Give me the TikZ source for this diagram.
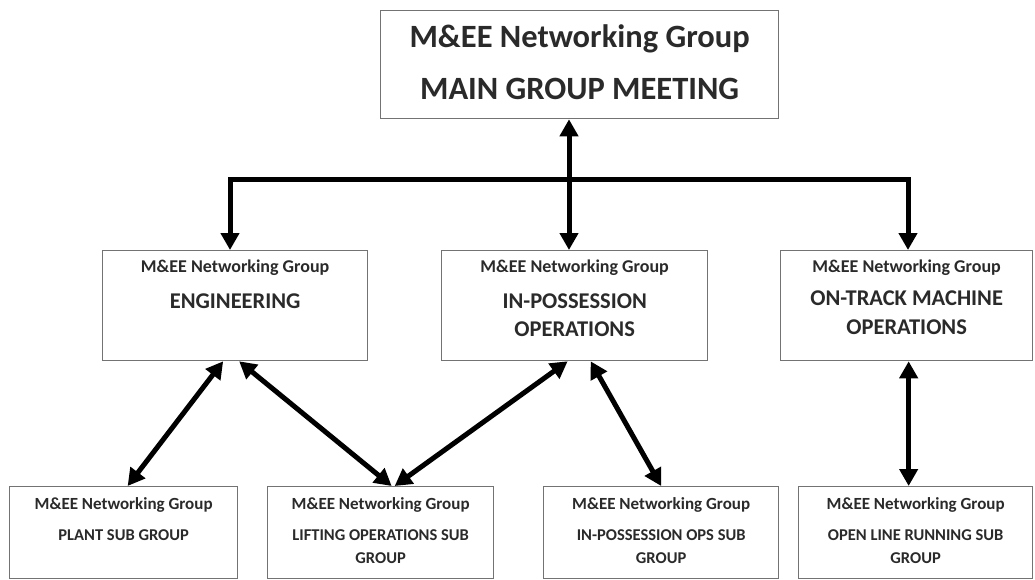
\documentclass[tikz,border=0pt]{standalone}
\usepackage{fontspec}
\setmainfont{Carlito}
\usetikzlibrary{arrows.meta,calc}
\definecolor{txt}{HTML}{2A2A2A}
\begin{document}
\begin{tikzpicture}[x=1pt,y=-1pt,
  box/.style={draw=black!55,line width=1.3pt,fill=white,anchor=north west,inner sep=0pt},
  bigtxt/.style={font=\bfseries\fontsize{32.5}{34}\selectfont,text=txt,inner sep=0pt},
  midhdr/.style={font=\bfseries\fontsize{18}{20}\selectfont,text=txt,inner sep=0pt},
  midtxt/.style={font=\bfseries\fontsize{22.5}{24}\selectfont,text=txt,inner sep=0pt},
  lowhdr/.style={font=\bfseries\fontsize{17}{19}\selectfont,text=txt,inner sep=0pt},
  lowtxt/.style={font=\bfseries\fontsize{16.5}{18}\selectfont,text=txt,inner sep=0pt},
  con/.style={line width=5pt,draw=black,line join=miter,
    {Triangle[length=17pt,width=18pt]}-{Triangle[length=17pt,width=18pt]}}]
\useasboundingbox (0,0) rectangle (1035,580);
% boxes
\node[box,minimum width=398pt,minimum height=108pt] (top) at (380,10) {};
\node[box,minimum width=265pt,minimum height=110pt] (eng) at (102,250) {};
\node[box,minimum width=266pt,minimum height=110pt] (ip) at (441,250) {};
\node[box,minimum width=252pt,minimum height=110pt] (otm) at (780,250) {};
\node[box,minimum width=228pt,minimum height=92pt] (plant) at (9,486) {};
\node[box,minimum width=226pt,minimum height=92pt] (lift) at (267,486) {};
\node[box,minimum width=235pt,minimum height=92pt] (ipo) at (543,486) {};
\node[box,minimum width=234pt,minimum height=92pt] (ol) at (798,486) {};
% texts
\node[bigtxt] (t1) at (top.center |- 0,39) {M\&EE Networking Group};
\node[bigtxt] (t2) at (top.center |- 0,89) {MAIN GROUP MEETING};
\node[midhdr] (e1) at (eng.center |- 0,268) {M\&EE Networking Group};
\node[midtxt] (e2) at (eng.center |- 0,301) {ENGINEERING};
\node[midhdr] (i1) at (ip.center |- 0,268) {M\&EE Networking Group};
\node[midtxt] (i2) at (ip.center |- 0,301) {IN-POSSESSION};
\node[midtxt] (i3) at (ip.center |- 0,329) {OPERATIONS};
\node[midhdr] (o1) at (otm.center |- 0,268) {M\&EE Networking Group};
\node[midtxt] (o2) at (otm.center |- 0,298) {ON-TRACK MACHINE};
\node[midtxt] (o3) at (otm.center |- 0,327) {OPERATIONS};
\node[lowhdr] (p1) at (plant.center |- 0,505) {M\&EE Networking Group};
\node[lowtxt] (p2) at (plant.center |- 0,535) {PLANT SUB GROUP};
\node[lowhdr] (l1) at (lift.center |- 0,505) {M\&EE Networking Group};
\node[lowtxt] (l2) at (lift.center |- 0,535) {LIFTING OPERATIONS SUB};
\node[lowtxt] (l3) at (lift.center |- 0,558) {GROUP};
\node[lowhdr] (q1) at (ipo.center |- 0,505) {M\&EE Networking Group};
\node[lowtxt] (q2) at (ipo.center |- 0,535) {IN-POSSESSION OPS SUB};
\node[lowtxt] (q3) at (ipo.center |- 0,558) {GROUP};
\node[lowhdr] (r1) at (ol.center |- 0,505) {M\&EE Networking Group};
\node[lowtxt] (r2) at (ol.center |- 0,535) {OPEN LINE RUNNING SUB};
\node[lowtxt] (r3) at (ol.center |- 0,558) {GROUP};
% connectors
\coordinate (hub) at (569,180);
\coordinate (L) at (230,180);
\coordinate (R) at (908,180);
\draw[con] (top.south -| hub) -- (ip.north -| hub);
\draw[con] (eng.north -| L) -- (L) -- (R) -- (otm.north -| R);
\draw[con] ([xshift=-12pt]eng.south) -- ([xshift=4pt]plant.north);
\draw[con] ([xshift=4pt]eng.south) -- ([xshift=11pt]lift.north);
\draw[con] ([xshift=-7pt]ip.south) -- ([xshift=14pt]lift.north);
\draw[con] ([xshift=16pt]ip.south) -- (ipo.north);
\draw[con] ([xshift=2pt]otm.south) -- ([xshift=-7pt]ol.north);
\end{tikzpicture}
\end{document}
